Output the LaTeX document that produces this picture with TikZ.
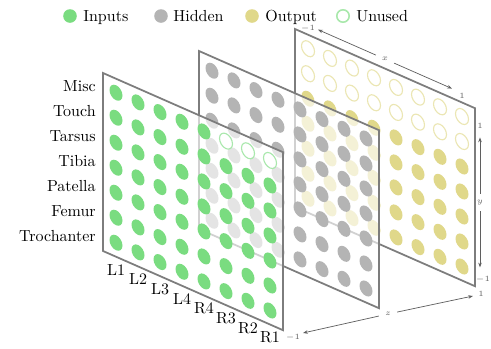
\documentclass[tikz,border=0pt]{standalone}
\usepackage{tikz}
\usetikzlibrary{arrows.meta}
\definecolor{InputGreen}{RGB}{122,220,128}
\definecolor{HiddenGray}{RGB}{180,180,180}
\definecolor{OutputYellow}{RGB}{224,216,138}
\definecolor{PanelEdge}{RGB}{125,125,125}
\definecolor{AxisGray}{RGB}{95,95,95}

\begin{document}
\begin{tikzpicture}[x=0.625pt,y=-0.625pt,>={Stealth[length=3pt,width=2.2pt]},
    panel/.style={draw=PanelEdge,line width=1.1pt,fill=white,fill opacity=0.65},
    unused/.style={draw=#1!65,line width=0.7pt},
    rowlab/.style={anchor=east,inner sep=0pt},
    collab/.style={inner sep=0pt},
    legtext/.style={anchor=base west,inner sep=0pt},
    axlab/.style={font=\fontsize{4.8}{5}\selectfont,text=AxisGray,inner sep=0.3pt},
    axis/.style={->,AxisGray,line width=0.45pt,shorten <=3.5pt}]
  \useasboundingbox (0,0) rectangle (491,348);

  % legend
  \fill[InputGreen] (70,16) circle (6.8);
  \node[legtext] (legin) at (83,21) {Inputs};
  \fill[HiddenGray] (161,16) circle (6.8);
  \node[legtext] (leghid) at (173,21) {Hidden};
  \fill[OutputYellow] (252,16) circle (6.8);
  \node[legtext] (legout) at (265,21) {Output};
  \draw[unused=InputGreen,line width=1pt] (343,16) circle (6.2);
  \node[legtext] (legun) at (356,21) {Unused};

  % output layer
  \begin{scope}[shift={(295,29)},yslant=-0.44]
    \draw[panel] (0,0) rectangle (180,178);
    \foreach \i in {0,...,7}{
      \foreach \j in {0,1}
        \draw[unused=OutputYellow] ({13+22*\i},{14+25*\j}) ellipse [x radius=6.5,y radius=7.5];
      \foreach \j in {2,...,6}
        \fill[OutputYellow] ({13+22*\i},{14+25*\j}) ellipse [x radius=6.5,y radius=7.5];
    }
    % x axis
    \node[axlab] (xlab) at (90,-9.5) {$x$};
    \coordinate (xlo) at (23,-9.5);
    \coordinate (xhi) at (157,-9.5);
    \draw[axis] (xlab) -- (xlo);
    \draw[axis] (xlab) -- (xhi);
    \node[axlab] (xmin) at (13,-6) {$-1$};
    \node[axlab] (xmax) at (167,-7) {$1$};
    % y axis
    \node[axlab] (ylab) at (185,92) {$y$};
    \coordinate (yhi) at (185,27);
    \coordinate (ylo) at (185,157);
    \draw[axis] (ylab) -- (yhi);
    \draw[axis] (ylab) -- (ylo);
    \node[axlab] (ymax) at (185,16) {$1$};
    \node[axlab] (ymin) at (188,168) {$-1$};
  \end{scope}

  % hidden layer
  \begin{scope}[shift={(199,51)},yslant=-0.44]
    \draw[panel] (0,0) rectangle (180,178);
    \foreach \i in {0,...,7}
      \foreach \j in {0,...,6}
        \fill[HiddenGray] ({13+22*\i},{14+25*\j}) ellipse [x radius=6.5,y radius=7.5];
  \end{scope}

  % input layer
  \begin{scope}[shift={(103,73)},yslant=-0.44]
    \draw[panel] (0,0) rectangle (180,178);
    \foreach \i in {0,...,7}
      \foreach \j in {1,...,6}
        \fill[InputGreen] ({13+22*\i},{14+25*\j}) ellipse [x radius=6.5,y radius=7.5];
    \foreach \i in {0,...,4}
      \fill[InputGreen] ({13+22*\i},14) ellipse [x radius=6.5,y radius=7.5];
    \foreach \i in {5,6,7}
      \draw[unused=InputGreen] ({13+22*\i},14) ellipse [x radius=6.5,y radius=7.5];
    \foreach \lab [count=\j from 0] in {Misc,Touch,Tarsus,Tibia,Patella,Femur,Trochanter}
      \node[rowlab] (row\j) at (-7,{16+25*\j}) {\lab};
    \foreach \lab [count=\i from 0] in {L1,L2,L3,L4,R4,R3,R2,R1}
      \node[collab] (col\i) at ({13+22*\i},191) {\lab};
  \end{scope}

  % z axis
  \node[axlab] (zlab) at (388,314) {$z$};
  \coordinate (zhi) at (473,296);
  \coordinate (zlo) at (303,333);
  \draw[axis] (zlab) -- (zhi);
  \draw[axis] (zlab) -- (zlo);
  \node[axlab] (zmax) at (481,294) {$1$};
  \node[axlab] (zmin) at (293,337) {$-1$};
\end{tikzpicture}
\end{document}
